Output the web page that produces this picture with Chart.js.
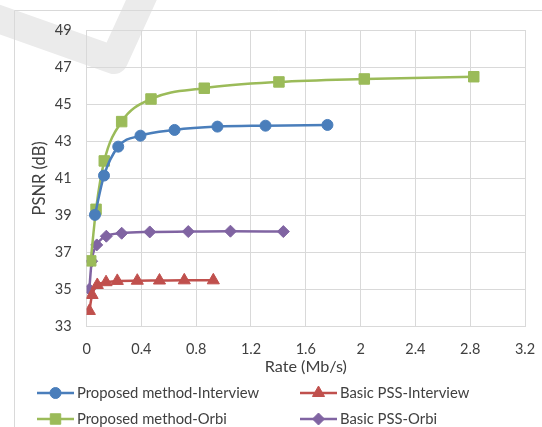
<!DOCTYPE html>
<html>
<head>
<meta charset="utf-8">
<script src="https://cdn.jsdelivr.net/npm/chart.js@4/dist/chart.umd.min.js"></script>
<style>
  html, body { margin: 0; padding: 0; background: #ffffff; }
  #wrap { width: 542px; height: 427px; position: relative; }
</style>
</head>
<body>
<div id="wrap"><canvas id="chart" width="542" height="427"></canvas></div>
<script>
// Axis ticks
const rateTicks = [0, 0.4, 0.8, 1.2, 1.6, 2, 2.4, 2.8, 3.2];
const psnrTicks = [33, 35, 37, 39, 41, 43, 45, 47, 49];

// Series names (legend order: two columns)
const seriesNames = [
  'Proposed method-Interview',
  'Basic PSS-Interview',
  'Proposed method-Orbi',
  'Basic PSS-Orbi'
];

// Proposed method - Interview
const propInterviewRate = [0.061, 0.127, 0.231, 0.393, 0.642, 0.955, 1.306, 1.758];
const propInterviewPsnr = [39.03, 41.15, 42.71, 43.30, 43.61, 43.79, 43.84, 43.88];

// Basic PSS - Interview
const pssInterviewRate = [0.020, 0.040, 0.078, 0.142, 0.224, 0.370, 0.532, 0.713, 0.925];
const pssInterviewPsnr = [33.85, 34.71, 35.25, 35.40, 35.47, 35.48, 35.49, 35.50, 35.50];

// Proposed method - Orbi
const propOrbiRate = [0.030, 0.069, 0.129, 0.256, 0.470, 0.859, 1.404, 2.027, 2.826];
const propOrbiPsnr = [36.55, 39.33, 41.94, 44.06, 45.28, 45.86, 46.20, 46.36, 46.48];

// Basic PSS - Orbi
const pssOrbiRate = [0.020, 0.037, 0.074, 0.144, 0.256, 0.461, 0.742, 1.050, 1.436];
const pssOrbiPsnr = [35.02, 36.53, 37.41, 37.88, 38.04, 38.11, 38.13, 38.15, 38.13];

const FONT = 'Lato, "Open Sans", sans-serif';
const TEXT = '#404040';
const GRID = '#d9d9d9';

function pairs(xs, ys) { return xs.map((x, i) => ({ x: x, y: ys[i] })); }

function series(label, xs, ys, color, style, radius) {
  return {
    label: label,
    data: pairs(xs, ys),
    borderColor: color,
    backgroundColor: color,
    borderWidth: 2.5,
    pointStyle: style,
    pointRadius: radius,
    pointBorderWidth: 1,
    pointBackgroundColor: color,
    pointBorderColor: color,
    cubicInterpolationMode: 'monotone',
    fill: false
  };
}

// Faint background mark and the outer frame, painted under the plot
const backdrop = {
  id: 'backdrop',
  beforeDraw(chart) {
    const ctx = chart.ctx;
    ctx.save();
    ctx.strokeStyle = '#ebebeb';
    ctx.lineWidth = 28;
    ctx.lineJoin = 'round';
    ctx.lineCap = 'butt';
    ctx.beginPath();
    ctx.moveTo(-10, 16);
    ctx.lineTo(114, 60);
    ctx.lineTo(145, -8);
    ctx.stroke();

    ctx.strokeStyle = GRID;
    ctx.lineWidth = 1;
    ctx.beginPath();
    ctx.moveTo(14.5, 427);
    ctx.lineTo(14.5, 10.5);
    ctx.lineTo(542, 10.5);
    ctx.stroke();
    ctx.restore();
  }
};

// Two-column legend below the axis title
const legendLayout = { cols: [37, 300], rows: [393, 419], lineLen: 37, textGap: 3 };
const columnLegend = {
  id: 'columnLegend',
  afterDraw(chart) {
    const ctx = chart.ctx;
    ctx.save();
    chart.data.datasets.forEach((ds, i) => {
      const x0 = legendLayout.cols[i % 2];
      const y = legendLayout.rows[Math.floor(i / 2)];
      ctx.strokeStyle = ds.borderColor;
      ctx.lineWidth = ds.borderWidth;
      ctx.beginPath();
      ctx.moveTo(x0, y);
      ctx.lineTo(x0 + legendLayout.lineLen, y);
      ctx.stroke();
      ctx.fillStyle = ds.pointBackgroundColor;
      ctx.strokeStyle = ds.pointBorderColor;
      ctx.lineWidth = ds.pointBorderWidth;
      Chart.helpers.drawPoint(ctx, {
        pointStyle: ds.pointStyle,
        radius: ds.pointRadius,
        borderWidth: ds.pointBorderWidth,
        rotation: 0
      }, x0 + legendLayout.lineLen / 2, y);
      ctx.fillStyle = TEXT;
      ctx.font = '14.8px ' + FONT;
      ctx.textBaseline = 'middle';
      ctx.textAlign = 'left';
      ctx.fillText(ds.label, x0 + legendLayout.lineLen + legendLayout.textGap, y);
    });
    ctx.restore();
  }
};

new Chart(document.getElementById('chart'), {
  type: 'line',
  data: {
    datasets: [
      series(seriesNames[0], propInterviewRate, propInterviewPsnr, '#4a7ebb', 'circle', 5.5),
      series(seriesNames[1], pssInterviewRate, pssInterviewPsnr, '#c0504d', 'triangle', 7),
      series(seriesNames[2], propOrbiRate, propOrbiPsnr, '#9bbb59', 'rect', 7.4),
      series(seriesNames[3], pssOrbiRate, pssOrbiPsnr, '#8064a2', 'rectRot', 6)
    ]
  },
  options: {
    responsive: false,
    animation: false,
    devicePixelRatio: 1,
    layout: { padding: { left: 26, right: 17, top: 30, bottom: 50.3 } },
    plugins: {
      legend: { display: false },
      tooltip: { enabled: false }
    },
    scales: {
      x: {
        type: 'linear',
        min: rateTicks[0],
        max: rateTicks[rateTicks.length - 1],
        afterBuildTicks(axis) { axis.ticks = rateTicks.map(v => ({ value: v })); },
        afterFit(axis) {
          axis.height = 50;
          axis.paddingLeft = 0;
          axis.paddingRight = 0;
        },
        grid: { color: GRID, lineWidth: 1, drawTicks: false },
        border: { color: GRID, width: 1 },
        ticks: {
          padding: 14,
          color: TEXT,
          font: { family: FONT, size: 14.5 },
          callback: v => String(Number(v.toFixed(1)))
        },
        title: {
          display: true,
          text: 'Rate (Mb/s)',
          color: TEXT,
          font: { family: FONT, size: 16.2 },
          padding: { top: 0, bottom: 0 }
        }
      },
      y: {
        type: 'linear',
        min: psnrTicks[0],
        max: psnrTicks[psnrTicks.length - 1],
        afterBuildTicks(axis) { axis.ticks = psnrTicks.map(v => ({ value: v })); },
        afterFit(axis) { axis.width = 60.6; },
        grid: { color: GRID, lineWidth: 1, drawTicks: false },
        border: { color: GRID, width: 1 },
        ticks: {
          padding: 15,
          color: TEXT,
          font: { family: FONT, size: 14.5 }
        },
        title: {
          display: true,
          text: 'PSNR (dB)',
          color: TEXT,
          font: { family: FONT, size: 16.5 },
          padding: { top: 4, bottom: 4 }
        }
      }
    }
  },
  plugins: [backdrop, columnLegend]
});
</script>
</body>
</html>
